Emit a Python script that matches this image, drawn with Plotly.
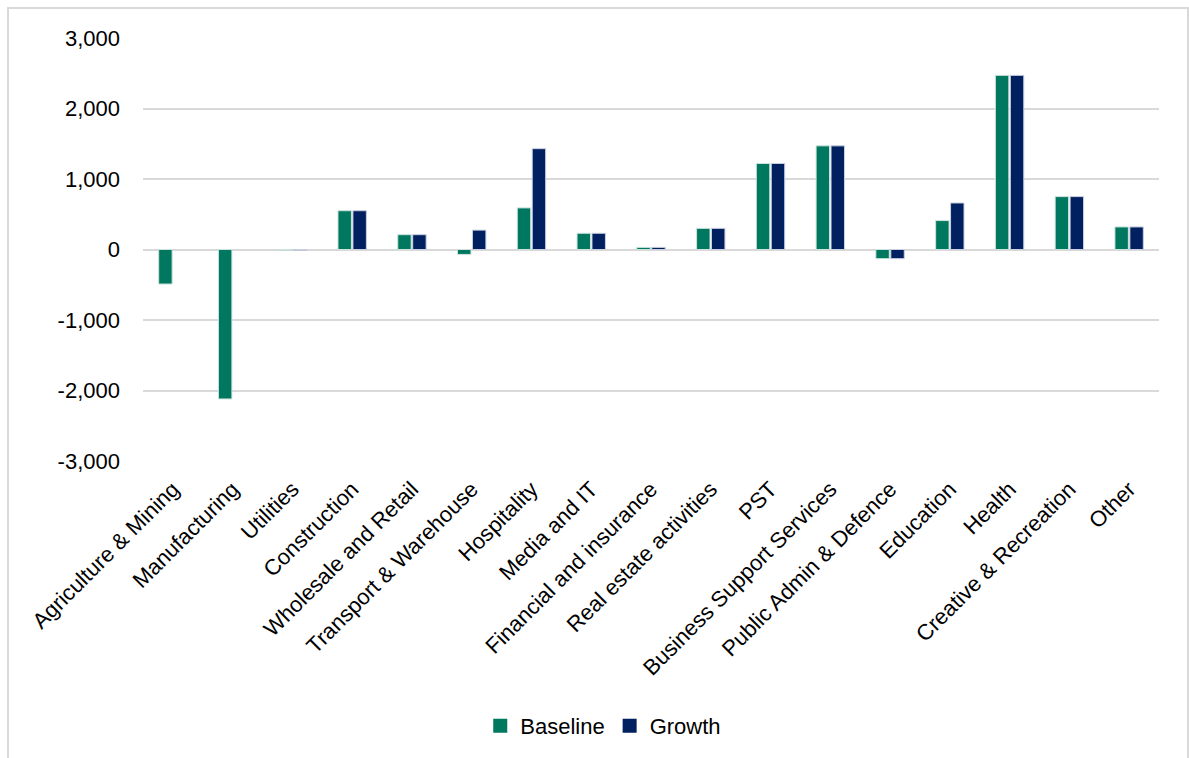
import plotly.graph_objects as go

sectors = [
    "Agriculture & Mining", "Manufacturing", "Utilities", "Construction",
    "Wholesale and Retail", "Transport & Warehouse", "Hospitality", "Media and IT",
    "Financial and insurance", "Real estate activities", "PST",
    "Business Support Services", "Public Admin & Defence", "Education",
    "Health", "Creative & Recreation", "Other",
]
baseline = [-490, -2120, -10, 550, 210, -70, 590, 230, 30, 300, 1220, 1470, -130, 410, 2470, 750, 320]
growth = [None, None, -10, 550, 210, 275, 1430, 230, 30, 300, 1220, 1470, -130, 660, 2470, 750, 320]

y_ticks = [-3000, -2000, -1000, 0, 1000, 2000, 3000]
y_tick_text = ["-3,000", "-2,000", "-1,000", "0", "1,000", "2,000", "3,000"]

TEAL = "#00785f"
NAVY = "#002060"
FONT = "Liberation Sans, Arial, sans-serif"

fig = go.Figure()
fig.add_trace(go.Bar(name="Baseline", x=sectors, y=baseline, showlegend=False,
                     marker=dict(color=TEAL, line=dict(color="#cfe3dd", width=1))))
fig.add_trace(go.Bar(name="Growth", x=sectors, y=growth, showlegend=False,
                     marker=dict(color=NAVY, line=dict(color="#c9cfe0", width=1))))

# square legend keys
for name, color in (("Baseline", TEAL), ("Growth", NAVY)):
    fig.add_trace(go.Scatter(name=name, x=[None], y=[None], mode="markers",
                             marker=dict(symbol="square", size=14, color=color),
                             hoverinfo="skip"))

W, H = 1189, 758
L, R, T, B = 143, 30, 38, 296
pw, ph = W - L - R, H - T - B

# light frame around the whole chart area
fig.add_shape(type="rect", xref="paper", yref="paper",
              x0=(8 - L) / pw, x1=(1188 - L) / pw,
              y0=(H - B - 800) / ph, y1=(H - B - 8) / ph,
              line=dict(color="#d9d9d9", width=2), fillcolor="rgba(0,0,0,0)",
              layer="below")

fig.update_layout(
    width=W, height=H,
    margin=dict(l=L, r=R, t=T, b=B),
    paper_bgcolor="white", plot_bgcolor="white",
    barmode="group", bargap=0.5, bargroupgap=0.1,
    font=dict(family=FONT, size=22, color="#000000"),
    xaxis=dict(tickangle=-45, showgrid=False, showline=False, ticks="",
               ticklabelstandoff=10,
               tickfont=dict(family=FONT, size=22), automargin=False),
    yaxis=dict(range=[-3000, 3000], tickvals=y_ticks, ticktext=y_tick_text,
               showgrid=True, gridcolor="#d9d9d9", gridwidth=1.5,
               zeroline=True, zerolinecolor="#d9d9d9", zerolinewidth=1.5,
               showline=False, ticks="", ticklabelstandoff=22,
               tickfont=dict(family=FONT, size=22), automargin=False),
    legend=dict(orientation="h", x=0.453, xanchor="center", y=(H - B - 726) / ph,
                yanchor="middle", font=dict(family=FONT, size=22),
                itemwidth=30, traceorder="normal"),
    showlegend=True,
)

fig.write_html("out.html")
